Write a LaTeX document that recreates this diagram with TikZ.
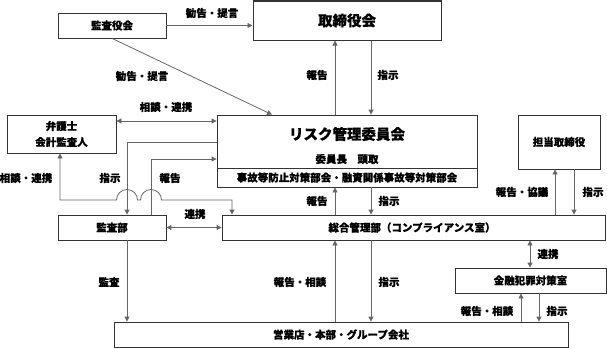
\documentclass[tikz,border=0pt]{standalone}
\usepackage{fontspec}
\newfontfamily\cjk[FakeBold=0.5]{Noto Sans CJK JP}
\usetikzlibrary{arrows.meta}
\tikzset{
  box/.style={draw=black!80, line width=0.8pt, inner sep=0pt, fill=white},
  conn/.style={draw=black!60, line width=0.8pt},
  arr/.style={-{Triangle[length=5pt,width=5pt]}},
  darr/.style={{Triangle[length=5pt,width=5pt]}-{Triangle[length=5pt,width=5pt]}},
  lab/.style={inner sep=0pt, font=\cjk\bfseries\fontsize{10.5}{12}\selectfont},
  btxt/.style={inner sep=0pt, font=\cjk\bfseries\fontsize{10.5}{16}\selectfont, align=center},
  big/.style={inner sep=0pt, font=\cjk\bfseries\fontsize{14.5}{17}\selectfont},
}
\begin{document}
\begin{tikzpicture}[x=1pt, y=-1pt]
\useasboundingbox (0,0) rectangle (607,348);
% helper coordinates
\foreach \xx in {60,127,151,232,272,335,371,521,530,539,555,574}{\coordinate (x\xx) at (\xx,0);}
\foreach \yy in {121,142,159,168,200}{\coordinate (y\yy) at (0,\yy);}
% boxes
\node[box, minimum width=108pt, minimum height=25pt] (kansa) at (112,25.5) {};
\node[btxt] (kansaT) at (kansa) {監査役会};
\node[box, minimum width=188pt, minimum height=39pt, line width=1pt] (tori) at (347,20.5) {};
\node[big] (toriT) at (tori) {取締役会};
\node[box, minimum width=109pt, minimum height=38pt] (bengo) at (61.5,134) {};
\node[btxt] (bengoT) at (bengo) {弁護士\\会計監査人};
\node[box, minimum width=260pt, minimum height=72pt] (risk) at (347,151) {};
\draw[draw=black!80, line width=0.8pt] (risk.west |- y168) -- (risk.east |- y168);
\node[big] (riskT) at (347,134) {リスク管理委員会};
\node[lab] (riskS) at (347,159) {委員長　頭取};
\node[lab] (riskB) at (347,177.5) {事故等防止対策部会・融資関係事故等対策部会};
\node[box, minimum width=82pt, minimum height=54pt] (tanto) at (559,142) {};
\node[btxt] (tantoT) at (tanto) {担当取締役};
\node[box, minimum width=108pt, minimum height=25pt] (kansabu) at (112,227.5) {};
\node[btxt] (kansabuT) at (kansabu) {監査部};
\node[box, minimum width=383pt, minimum height=25pt] (sogo) at (413.5,227.5) {};
\node[btxt] (sogoT) at (412,227.5) {総合管理部（コンプライアンス室）};
\node[box, minimum width=151pt, minimum height=25pt] (kinyu) at (530.5,280.5) {};
\node[btxt] (kinyuT) at (kinyu) {金融犯罪対策室};
\node[box, minimum width=454pt, minimum height=25pt] (eigyo) at (341,334.5) {};
\node[btxt] (eigyoT) at (eigyo) {営業店・本部・グループ会社};
% connectors
\draw[conn, arr] (kansa.east) -- (kansa.east -| tori.west);
\draw[conn, arr] (kansa.south) -- (x272 |- risk.north);
\draw[conn, darr] (bengo.east |- y121) -- (risk.west |- y121);
\draw[conn, arr] (x335 |- risk.north) -- (x335 |- tori.south);
\draw[conn, arr] (x371 |- tori.south) -- (x371 |- risk.north);
\draw[conn, arr] (risk.west |- y142) -- (x127 |- y142) -- (x127 |- kansabu.north);
\draw[conn, arr] (x151 |- kansabu.north) -- (x151 |- y159) -- (risk.west |- y159);
\draw[conn, darr] (x60 |- bengo.south) -- (x60 |- y200) -- (116.5,200) arc (180:360:10.5) -- (140.5,200) arc (180:360:10.5) -- (x232 |- y200) -- (x232 |- sogo.north);
\draw[conn, darr] (kansabu.east) -- (kansabu.east -| sogo.west);
\draw[conn, arr] (x335 |- sogo.north) -- (x335 |- risk.south);
\draw[conn, arr] (x371 |- risk.south) -- (x371 |- sogo.north);
\draw[conn, arr] (x555 |- sogo.north) -- (x555 |- tanto.south);
\draw[conn, arr] (x574 |- tanto.south) -- (x574 |- sogo.north);
\draw[conn, darr] (x530 |- sogo.south) -- (x530 |- kinyu.north);
\draw[conn, arr] (x335 |- eigyo.north) -- (x335 |- sogo.south);
\draw[conn, arr] (x371 |- sogo.south) -- (x371 |- eigyo.north);
\draw[conn, arr] (x127 |- kansabu.south) -- (x127 |- eigyo.north);
\draw[conn, arr] (x521 |- eigyo.north) -- (x521 |- kinyu.south);
\draw[conn, arr] (x539 |- kinyu.south) -- (x539 |- eigyo.north);
% labels
\node[lab] (l1) at (212,13) {勧告・提言};
\node[lab] (l2) at (142,76) {勧告・提言};
\node[lab] (l3) at (166,107) {相談・連携};
\node[lab] (l4) at (317,75) {報告};
\node[lab] (l5) at (388,75) {指示};
\node[lab] (l6) at (26,178) {相談・連携};
\node[lab] (l7) at (110,178) {指示};
\node[lab] (l8) at (170,178) {報告};
\node[lab] (l9) at (195,214) {連携};
\node[lab] (l10) at (317,201) {報告};
\node[lab] (l11) at (389,201) {指示};
\node[lab] (l12) at (522,192) {報告・協議};
\node[lab] (l13) at (593,192) {指示};
\node[lab] (l14) at (548,254) {連携};
\node[lab] (l15) at (109,282) {監査};
\node[lab] (l16) at (300,282) {報告・相談};
\node[lab] (l17) at (389,282) {指示};
\node[lab] (l18) at (487,311) {報告・相談};
\node[lab] (l19) at (557,311) {指示};
\end{tikzpicture}
\end{document}
